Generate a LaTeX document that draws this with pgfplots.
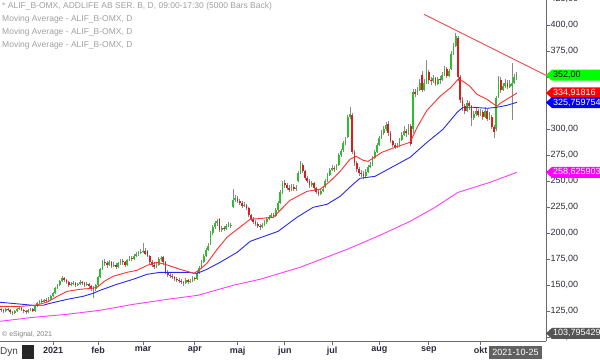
\documentclass[border=0pt]{standalone}
\usepackage{pgfplots}
\pgfplotsset{compat=1.18}
\usepackage{pgfplotstable}
\usepackage{fontspec}
\setmainfont{Liberation Sans}
\definecolor{cgreen}{HTML}{2DBE2D}
\definecolor{cred}{HTML}{D81E1E}
\definecolor{wick}{HTML}{8A8A8A}
\definecolor{mared}{HTML}{FF3030}
\definecolor{mablue}{HTML}{2828F0}
\definecolor{mamag}{HTML}{FF3CFF}
\definecolor{trend}{HTML}{F04848}
\definecolor{lgray}{HTML}{A0A0A0}
\definecolor{tickc}{HTML}{2A2A3A}
\definecolor{axc}{HTML}{6A6A6A}
\definecolor{tgreen}{HTML}{00FF00}
\definecolor{tred}{HTML}{FF0000}
\definecolor{tblue}{HTML}{0000FF}
\definecolor{tmag}{HTML}{FF00FF}
\definecolor{tgray}{HTML}{555555}

\pgfplotstableread{
d o h l c
-23 127 128 124 126
-22 126 127 123 125
-21 125 128 124 127
-20 127 128 125 126
-19 126 127 122 124
-18 124 125 121 123
-17 123 126 122 125
-16 125 128 124 127
-15 127 130 126 128
-14 128 129 125 126
-13 126 127 123 125
-12 125 126 122 124
-11 124 127 123 126
-10 126 128 125 127
-9 127 128 124 125
-8 125 131 124 130
-7 130 134 129 133
-6 133 136 132 135
-5 135 137 133 134
-4 134 137 133 136
-3 136 138 134 135
-2 135 139 134 137
-1 137 141 136 140
0 140 144 139 143
1 143 148 142 147
2 147 151 146 150
3 150 155 149 154
4 154 159 153 157
5 157 158 153 155
6 155 156 151 153
7 153 154 148 150
8 150 153 149 151
9 151 154 150 152
10 152 153 148 150
11 150 152 149 151
12 151 155 150 153
13 153 154 150 152
14 152 153 148 150
15 150 153 149 151
16 151 152 147 149
17 149 150 145 147
18 147 149 138 146
19 146 151 145 150
20 150 159 149 158
21 158 167 157 166
22 166 174 165 172
23 172 175 169 171
24 171 173 167 170
25 170 174 169 172
26 172 173 167 169
27 169 172 168 170
28 170 171 166 168
29 168 172 167 171
30 171 175 170 173
31 173 175 170 172
32 172 173 168 170
33 170 175 169 174
34 174 178 173 176
35 176 178 173 175
36 175 180 174 178
37 178 182 177 180
38 180 183 178 181
39 181 185 180 182
40 182 191 181 183
41 183 186 179 180
42 183 184 177 178
43 178 179 170 172
44 172 174 168 170
45 170 172 166 168
46 168 172 167 170
47 170 177 169 175
48 175 178 173 176
49 177 178 170 172
50 172 173 161 163
51 163 165 158 160
52 160 162 157 159
53 159 161 156 158
54 158 159 154 156
55 156 158 153 155
56 155 157 152 154
57 154 156 151 153
58 153 154 149 152
59 152 157 151 155
60 155 156 151 153
61 153 156 152 154
62 154 159 153 157
63 157 158 154 156
64 156 164 155 162
65 162 169 161 167
66 167 174 166 172
67 172 180 171 178
68 178 186 177 184
69 184 191 183 188
70 190 202 189 200
71 200 208 198 206
72 206 212 204 210
73 210 214 207 212
74 214 215 201 203
75 203 207 201 205
76 205 207 202 204
77 204 209 203 207
78 207 211 206 209
79 207 210 205 208
80 225 243 224 232
81 232 237 230 234
82 234 236 229 231
83 231 233 227 229
84 229 231 224 226
85 226 230 225 227
86 227 228 222 224
87 224 225 216 218
88 218 219 212 214
89 214 216 209 211
90 211 213 207 209
91 209 211 205 207
92 207 209 203 206
93 206 210 205 208
94 208 213 207 211
95 211 216 209 214
96 214 218 213 216
97 216 220 215 218
98 218 220 215 217
99 217 224 216 222
100 222 231 221 229
101 229 242 228 240
102 240 250 238 248
103 248 251 244 246
104 246 248 242 244
105 244 246 240 242
106 242 247 241 245
107 245 247 241 243
108 243 246 241 244
109 250 260 249 258
110 258 270 257 267
111 266 268 258 260
112 260 261 251 253
113 253 255 248 250
114 250 252 244 246
115 246 250 245 248
116 248 249 242 244
117 244 245 238 240
118 240 242 236 238
119 238 243 237 241
120 241 245 240 243
121 245 252 244 250
122 250 258 249 256
123 256 263 255 261
124 261 266 260 263
125 263 265 259 262
126 262 267 261 265
127 266 277 265 275
128 275 281 273 279
129 280 289 278 287
130 287 293 285 290
131 293 314 292 312
132 312 321 310 315
133 314 316 276 278
134 278 280 265 268
135 268 270 259 262
136 262 264 255 258
137 258 261 254 257
138 257 260 252 255
139 255 262 254 259
140 259 266 258 264
141 264 269 263 266
142 266 274 265 272
143 272 280 271 278
144 278 287 277 285
145 285 294 284 292
146 292 299 291 296
147 296 303 295 300
148 300 307 298 304
149 305 308 294 296
150 296 298 287 289
151 289 290 283 285
152 285 287 281 283
153 283 287 282 284
154 284 292 283 290
155 290 297 289 295
156 295 303 294 298
157 298 300 293 296
158 296 305 295 301
159 303 305 284 286
160 300 339 296 336
161 336 339 331 334
162 334 341 333 338
163 338 348 337 345
164 352 356 336 338
165 338 348 337 345
166 345 367 344 355
167 355 357 344 347
168 347 350 343 346
169 346 352 345 349
170 349 350 342 344
171 344 350 343 348
172 348 351 344 347
173 347 355 346 352
174 352 361 351 358
175 358 360 349 351
176 351 358 350 356
177 358 375 357 372
178 372 383 371 380
179 380 393 379 390
180 388 390 346 350
181 350 352 325 328
182 328 331 318 322
183 322 324 315 318
184 318 328 317 325
185 325 327 319 322
186 322 323 303 311
187 311 318 309 315
188 315 321 313 318
189 318 320 312 314
190 314 320 313 317
191 317 319 309 312
192 312 321 311 318
193 318 320 308 310
194 310 317 309 315
195 312 314 300 302
196 302 304 292 297
197 300 332 298 330
198 331 351 330 349
199 347 350 335 338
200 338 345 337 342
201 342 348 340 345
202 345 347 339 341
203 341 347 340 344
204 342 364 309 345
205 345 353 344 350
206 349 355 347 352
}\candles

\newcommand{\ptag}[4]{%
  \fill[#2] (#1) -- ++(6,5.5) -- ++(60,0) -- ++(0,-11) -- ++(-60,0) -- cycle;
  \node[anchor=west, text=#3, font=\fontsize{9}{9}\selectfont, inner sep=0pt] at ([xshift=7pt]#1) {#4};
}

\begin{document}
\begin{tikzpicture}[x=1pt,y=1pt]
\path[use as bounding box] (0,0) rectangle (600,359);
\begin{axis}[
  at={(0,17)}, anchor=south west,
  scale only axis, width=546pt, height=342pt,
  xmin=-23.6, xmax=219.1, ymin=96.15, ymax=425,
  axis x line=bottom, axis y line=right,
  axis line style={-, draw=axc, line width=0.8pt},
  tick align=outside,
  major tick length=3.5pt,
  tick style={draw=axc, line width=0.7pt},
  ytick={100,125,150,175,200,225,250,275,300,375,400,425},
  extra y ticks={325,350},
  extra y tick labels={},
  extra y tick style={tick style={draw=axc, line width=0.7pt}},
  scaled y ticks=false,
  yticklabel style={font=\fontsize{9}{9}\selectfont, text=tickc, inner sep=1pt,
    /pgf/number format/.cd, fixed, fixed zerofill, precision=2, use comma, 1000 sep={}, assume math mode=true},
  xtick={0,20,40,63,82,103,124,145,167,190},
  xticklabels={2021,feb,mar,apr,maj,jun,jul,aug,sep,okt},
  xticklabel style={font=\bfseries\fontsize{9}{9}\selectfont, text=tickc, inner sep=1pt, yshift=-1pt},
]
% wicks
\addplot[draw=none, forget plot, error bars/.cd, y dir=plus, y explicit, error mark=none,
  error bar style={draw=wick, line width=0.9pt}]
  table[x=d, y=l, y error expr={\thisrow{h}-\thisrow{l}}] {\candles};
% green bodies
\addplot[draw=none, forget plot, error bars/.cd, y dir=plus, y explicit, error mark=none,
  error bar style={draw=cgreen, line width=1.7pt}]
  table[x=d, y=o, y error expr={max(\thisrow{c}-\thisrow{o},0)}] {\candles};
% red bodies
\addplot[draw=none, forget plot, error bars/.cd, y dir=plus, y explicit, error mark=none,
  error bar style={draw=cred, line width=1.7pt}]
  table[x=d, y=c, y error expr={max(\thisrow{o}-\thisrow{c},0)}] {\candles};
% moving averages
\addplot[mamag, line width=0.9pt] coordinates {(-23.6,115.4) (-8.9,119.2) (6.2,122.1) (20.9,126.0) (35.6,131.7) (50.7,136.5) (64.4,140.4) (80,150.0) (92,155.8) (109.8,167.3) (130.7,184.6) (145.3,198.1) (158.7,211.5) (169.8,225.0) (180,239.4) (194.2,249.0) (206.2,258.7)};
\addplot[mablue, line width=0.9pt] coordinates {(-23.6,133.7) (-8.9,130.8) (-4.4,130.8) (-1.3,132.7) (6.2,136.5) (13.3,139.4) (17.8,142.3) (20.9,145.2) (28.4,151.0) (35.6,155.8) (41.8,160.6) (47.6,162.5) (59.6,162.5) (64,161.5) (68.4,165.4) (74.2,172.1) (81.8,181.7) (87.6,192.3) (100,201.9) (108.4,215.4) (115.6,225.0) (121.8,227.9) (127.6,235.6) (133.3,247.1) (136.4,252.9) (143.1,254.8) (158.7,273.1) (166.2,287.5) (173.3,300.0) (179.6,316.3) (182.2,321.2) (186.7,321.2) (192.9,320.2) (197.3,321.2) (201.8,323.1) (206.2,326.0)};
\addplot[mared, line width=0.9pt] coordinates {(-23.6,129.8) (-14.7,129.8) (-8,130.8) (-2.7,133.7) (1.8,139.4) (6.2,144.2) (12,146.2) (17.3,147.1) (19.6,148.1) (22.7,153.8) (26.7,158.7) (32.9,162.5) (37.3,164.4) (41.8,169.2) (46.2,172.1) (49.8,170.2) (56.4,165.4) (62.7,161.5) (65.3,165.4) (68.4,171.2) (72.9,184.6) (77.3,196.2) (81.8,203.8) (87.6,213.5) (92.9,214.4) (97.8,215.4) (105.3,231.7) (112.9,240.4) (118.7,242.3) (123.1,250) (127.6,259.6) (132,271.2) (134.7,274) (137.8,270.2) (140,269.2) (146.2,277.9) (152,282.7) (158.7,287.5) (161.8,301.9) (166.2,318.3) (172,331.7) (176.9,340.4) (180,348.1) (182.2,346.2) (185.3,341.3) (188.4,333.7) (192.9,328.8) (197.3,322.1) (198.7,325) (203.1,330.8) (206.2,334.9)};
% trend line
\addplot[trend, line width=0.9pt] coordinates {(164.9,410.6) (219.1,351.9)};
\coordinate (tg1) at (axis cs:219.1,352);
\coordinate (tg2) at (axis cs:219.1,334.92);
\coordinate (tg3) at (axis cs:219.1,325.76);
\coordinate (tg4) at (axis cs:219.1,258.63);
\coordinate (tg5) at (axis cs:219.1,103.80);
\end{axis}
% price tags
\ptag{tg1}{tgreen}{black}{352,00}
\ptag{tg2}{tred}{white}{334,91816}
\ptag{tg3}{tblue}{white}{325,759754}
\ptag{tg4}{tmag}{white}{258,625903}
\ptag{tg5}{tgray}{white}{103,795429}
% header texts
\begin{scope}[every node/.style={anchor=west, inner sep=0pt, text=lgray, font=\fontsize{8.5}{8.5}\selectfont}]
\node at (2,353) {* ALIF\_B-OMX, ADDLIFE AB SER. B, D, 09:00-17:30 (5000 Bars Back)};
\node at (2,340) {Moving Average - ALIF\_B-OMX, D};
\node at (2,327) {Moving Average - ALIF\_B-OMX, D};
\node at (2,314) {Moving Average - ALIF\_B-OMX, D};
\end{scope}
\node[anchor=west, inner sep=0pt, text=gray, font=\fontsize{7}{7}\selectfont] at (2,24.5) {\textcopyright{} eSignal, 2021};
% bottom-left items
\node[anchor=west, inner sep=0pt, text=black!75, font=\fontsize{10}{10}\selectfont] at (0,7) {Dyn};
\fill[black!85] (22,0) rectangle (34,14);
% date box
\fill[black!62] (489,0) rectangle (542,13);
\node[inner sep=0pt, text=white, font=\fontsize{9}{9}\selectfont] at (515.5,6.5) {2021-10-25};
\end{tikzpicture}
\end{document}
